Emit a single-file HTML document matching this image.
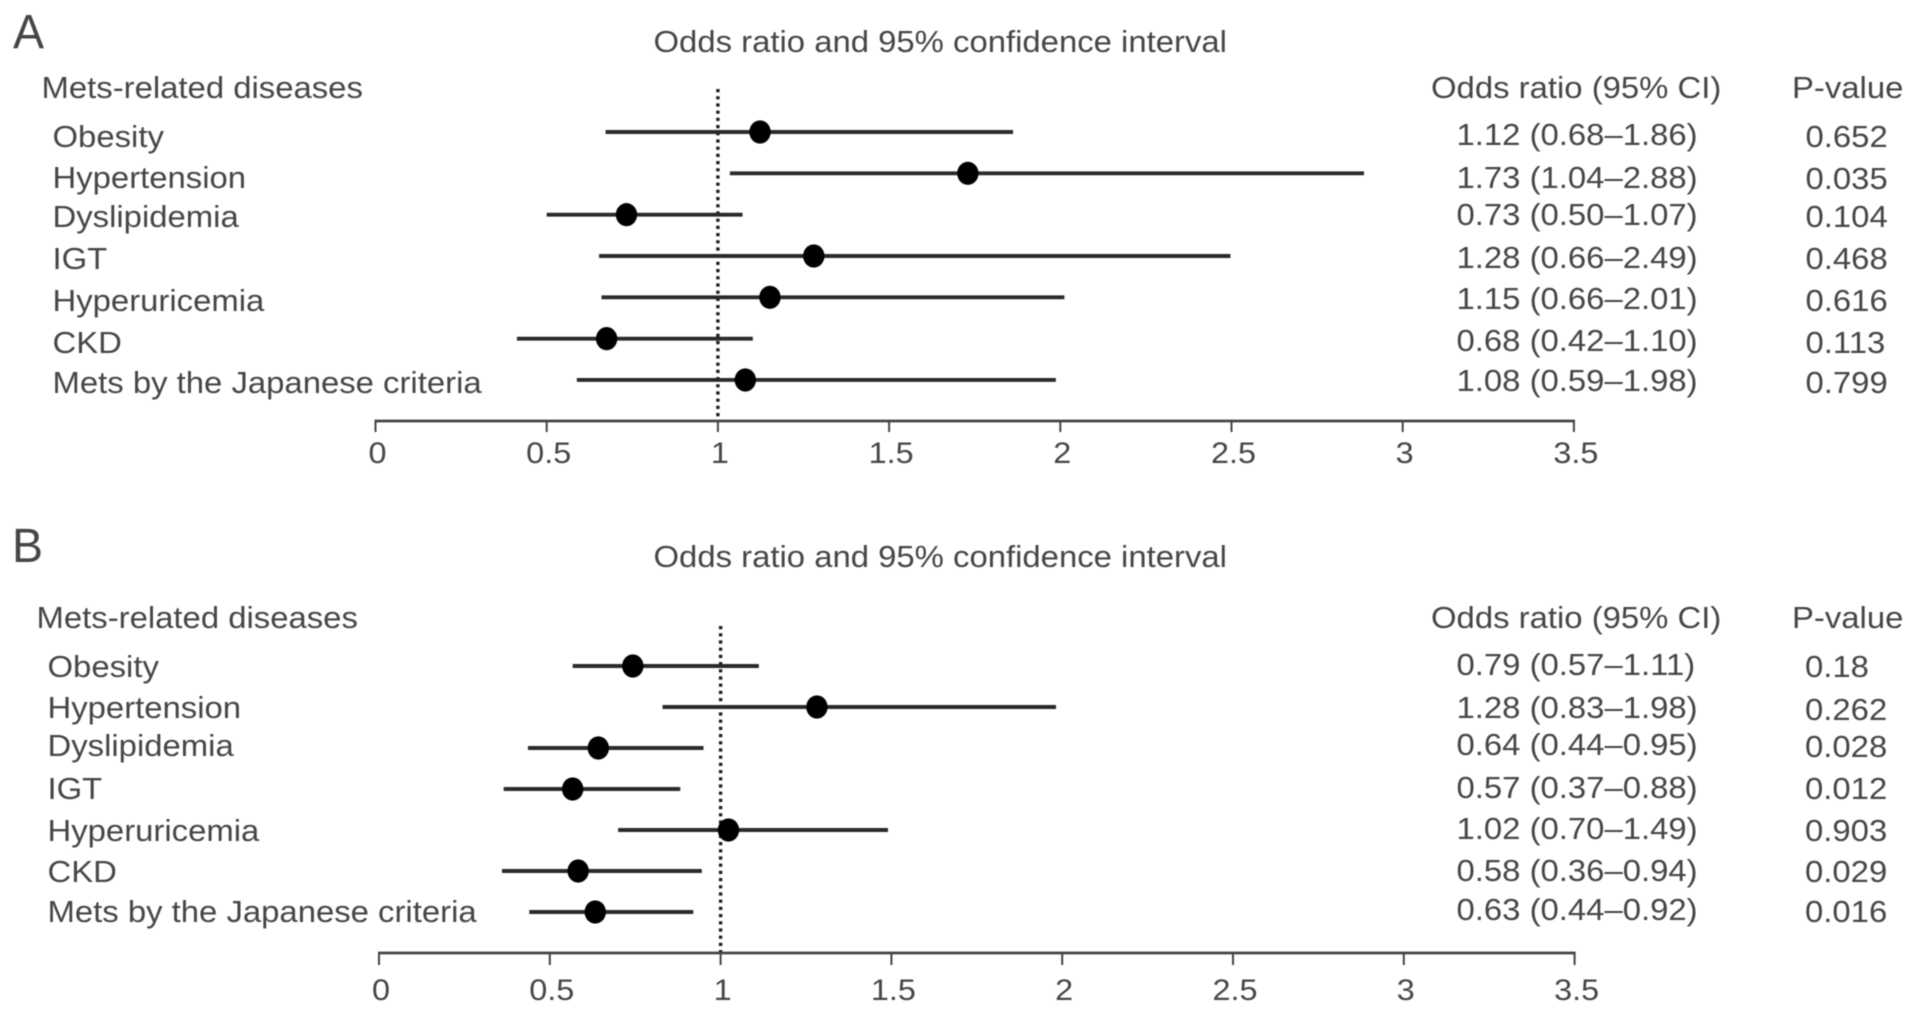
<!DOCTYPE html>
<html lang="en">
<head>
<meta charset="utf-8">
<title>Odds ratio forest plots</title>
<style>
  html, body { margin: 0; padding: 0; background: #fff; }
  body { width: 1913px; height: 1013px; overflow: hidden; }
  svg { display: block; filter: blur(0.5px); }
  text { font-family: "Liberation Sans", sans-serif; fill: #464646; }
</style>
</head>
<body>
<svg id="figure" xmlns="http://www.w3.org/2000/svg" width="1913" height="1013" viewBox="0 0 1913 1013"></svg>
<script>
// ---- Data ----
const categories = ["Obesity", "Hypertension", "Dyslipidemia", "IGT", "Hyperuricemia", "CKD", "Mets by the Japanese criteria"];
const axisTicks = [0, 0.5, 1, 1.5, 2, 2.5, 3, 3.5];
const tickLabels = ["0", "0.5", "1", "1.5", "2", "2.5", "3", "3.5"];

const oddsA = [1.123, 1.73, 0.733, 1.28, 1.152, 0.675, 1.08];
const lowA = [0.672, 1.035, 0.50, 0.653, 0.66, 0.413, 0.588];
const highA = [1.862, 2.887, 1.072, 2.497, 2.012, 1.102, 1.987];
const ciTextA = ["1.12 (0.68–1.86)", "1.73 (1.04–2.88)", "0.73 (0.50–1.07)", "1.28 (0.66–2.49)", "1.15 (0.66–2.01)", "0.68 (0.42–1.10)", "1.08 (0.59–1.98)"];
const pTextA = ["0.652", "0.035", "0.104", "0.468", "0.616", "0.113", "0.799"];

const oddsB = [0.743, 1.282, 0.642, 0.567, 1.023, 0.583, 0.633];
const lowB = [0.567, 0.83, 0.436, 0.365, 0.70, 0.36, 0.44];
const highB = [1.112, 1.982, 0.95, 0.882, 1.49, 0.945, 0.92];
const ciTextB = ["0.79 (0.57–1.11)", "1.28 (0.83–1.98)", "0.64 (0.44–0.95)", "0.57 (0.37–0.88)", "1.02 (0.70–1.49)", "0.58 (0.36–0.94)", "0.63 (0.44–0.92)"];
const pTextB = ["0.18", "0.262", "0.028", "0.012", "0.903", "0.029", "0.016"];

// ---- Layout (geometry only, per panel) ----
const layoutA = {
  letter: "A", letterX: 13, letterY: 48,
  titleY: 52, headerX: 41.5, headerY: 98, labelX: 52.5,
  x0: 375.5, unit: 342.4, axisY: 421, tickBottom: 432, tickLabelY: 463,
  refTop: 89, rowTop: 132, rowStep: 41.33,
  labelBase: [147, 188, 227, 269, 311, 353, 393],
  ciBase: [145, 188, 225, 268, 309, 351, 391],
  pBase: [147, 189, 227, 269, 311, 353, 393], pX: 1805.5
};
const layoutB = {
  letter: "B", letterX: 12, letterY: 562,
  titleY: 567, headerX: 36.5, headerY: 628, labelX: 47.5,
  x0: 379, unit: 341.6, axisY: 953, tickBottom: 965, tickLabelY: 1000,
  refTop: 626, rowTop: 666, rowStep: 41,
  labelBase: [677, 718, 756, 799, 841, 882, 922],
  ciBase: [675, 718, 755, 798, 839, 881, 920],
  pBase: [677, 720, 757, 799, 841, 882, 922], pX: 1805
};

const SVG_NS = "http://www.w3.org/2000/svg";
const figure = document.getElementById("figure");
const STRETCH = 1.06;

function addText(parent, str, x, y, size, anchor, stretch) {
  const el = document.createElementNS(SVG_NS, "text");
  el.textContent = str;
  el.setAttribute("transform", "translate(" + x + " " + y + ") scale(" + (stretch || STRETCH) + " 1)");
  el.setAttribute("font-size", size);
  if (anchor) el.setAttribute("text-anchor", anchor);
  parent.appendChild(el);
  return el;
}

function addLine(parent, x1, y1, x2, y2, width, color) {
  const el = document.createElementNS(SVG_NS, "line");
  el.setAttribute("x1", x1);
  el.setAttribute("y1", y1);
  el.setAttribute("x2", x2);
  el.setAttribute("y2", y2);
  el.setAttribute("stroke", color);
  el.setAttribute("stroke-width", width);
  parent.appendChild(el);
  return el;
}

function drawPanel(key, layout, odds, low, high, ciText, pText) {
  const xScale = v => layout.x0 + v * layout.unit;
  const rowY = i => layout.rowTop + i * layout.rowStep;

  const g = document.createElementNS(SVG_NS, "g");
  
  
  figure.appendChild(g);

  const letter = addText(g, layout.letter, layout.letterX, layout.letterY, 48, null, 0.97);
  
  

  const title = addText(g, "Odds ratio and 95% confidence interval", 653.5, layout.titleY, 31);
  
  

  const hDisease = addText(g, "Mets-related diseases", layout.headerX, layout.headerY, 31);
  
  

  const hOdds = addText(g, "Odds ratio (95% CI)", 1431, layout.headerY, 31);
  
  

  const hP = addText(g, "P-value", 1792, layout.headerY, 31);
  
  

  // Reference line at OR = 1
  const ref = addLine(g, xScale(1), layout.refTop, xScale(1), layout.axisY, 3.4, "#1c1c1c");
  ref.setAttribute("stroke-dasharray", "3.2 4");
  
  

  // X axis
  const axis = addLine(g, xScale(axisTicks[0]) - 1, layout.axisY, xScale(axisTicks[axisTicks.length - 1]) + 1, layout.axisY, 2.8, "#444");
  
  

  axisTicks.forEach((t, i) => {
    const tick = addLine(g, xScale(t), layout.axisY, xScale(t), layout.tickBottom, 2, "#444");
    
    

    const tl = addText(g, tickLabels[i], xScale(t) + 2, layout.tickLabelY, 30, "middle", 1.08);
    
    
  });

  // Rows
  categories.forEach((name, i) => {
    const label = addText(g, name, layout.labelX, layout.labelBase[i], 31);
    
    

    const ci = addLine(g, xScale(low[i]), rowY(i), xScale(high[i]), rowY(i), 3.9, "#2a2a2a");
    
    

    const dot = document.createElementNS(SVG_NS, "ellipse");
    dot.setAttribute("cx", xScale(odds[i]));
    dot.setAttribute("cy", rowY(i));
    dot.setAttribute("rx", 10.7);
    dot.setAttribute("ry", 11.6);
    dot.setAttribute("fill", "#000");
    
    
    g.appendChild(dot);

    const ciLabel = addText(g, ciText[i], 1456.5, layout.ciBase[i], 31);
    
    

    const pLabel = addText(g, pText[i], layout.pX, layout.pBase[i], 31);
    
    
  });
}

drawPanel("a", layoutA, oddsA, lowA, highA, ciTextA, pTextA);
drawPanel("b", layoutB, oddsB, lowB, highB, ciTextB, pTextB);
</script>
</body>
</html>
